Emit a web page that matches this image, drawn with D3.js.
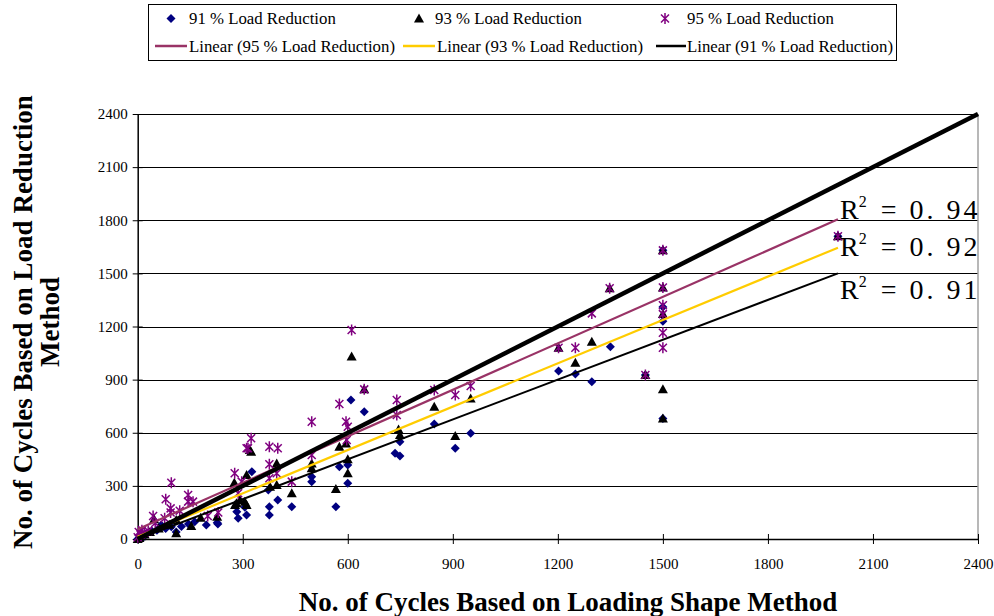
<!DOCTYPE html>
<meta charset="utf-8">
<style>
    body { margin: 0; background: #fff; }
    svg { font-family: "Liberation Serif", "Times New Roman", serif; }
    .axis path { stroke: #000; }
    .axis line { stroke: #000; }
    .axis text { font-size: 15px; font-family: "Liberation Serif", serif; fill: #000; }
    .grid line { stroke: #000; shape-rendering: crispEdges; }
    .title { font-weight: bold; font-size: 27px; }
    .leg text { font-size: 16.8px; }
    .r2 { font-size: 28px; }
</style>
<svg id="chart" width="994" height="616"></svg>
<script src="https://cdnjs.cloudflare.com/ajax/libs/d3/7.8.5/d3.min.js"></script>
<script>

    // points: [loading shape cycles, load reduction cycles]
    var load91 = [[0,0],[5,10],[10,20],[15,8],[25,30],[40,45],[55,50],[67,79],[80,60],[96,69],[110,40],
        [125,70],[145,85],[163,98],[196,79],[227,92],[229,85],[283,154],[287,117],[311,136],[306,180],
        [326,380],[373,277],[376,182],[376,136],[400,220],[440,182],[497,352],[497,324],[566,182],
        [576,408],[600,418],[600,315],[609,785],[647,719],[735,484],[749,469],[749,549],[847,649],
        [907,512],[951,597],[1202,949],[1250,932],[1297,888],[1350,1086],[1450,926],[1500,1630],
        [1500,1310],[1500,1230],[1500,680],[2000,1710]];

    var load93 = [[0,0],[5,5],[10,15],[20,25],[35,40],[47,111],[60,60],[90,80],[110,107],[110,32],
        [153,73],[180,120],[227,126],[278,192],[282,202],[292,220],[306,211],[311,192],[276,318],
        [311,361],[320,503],[324,493],[378,295],[397,305],[397,427],[440,258],[497,427],[497,399],
        [566,282],[576,521],[595,540],[600,450],[600,371],[611,1030],[647,845],[745,619],[749,587],
        [847,747],[907,582],[951,794],[1202,1080],[1250,996],[1297,1114],[1348,1416],[1450,926],
        [1500,1630],[1500,1420],[1500,1270],[1500,845],[1500,680],[2000,1710]];

    var load95 = [[0,10],[3,40],[8,25],[12,50],[20,35],[30,45],[44,130],[50,90],[77,117],[80,224],
        [94,173],[94,150],[96,318],[120,160],[144,248],[144,211],[158,211],[200,130],[230,150],
        [277,371],[287,258],[297,324],[311,512],[315,512],[324,569],[376,521],[400,512],[376,422],
        [376,343],[397,371],[440,324],[497,662],[497,474],[576,762],[595,662],[600,634],[597,559],
        [611,1180],[647,845],[740,785],[740,700],[847,841],[907,813],[951,864],[1202,1080],
        [1250,1080],[1297,1274],[1348,1416],[1450,926],[1500,1630],[1500,1420],[1500,1320],
        [1500,1270],[1500,1165],[1500,1080],[2000,1710]];

    // trend line end points
    var trend95 = [[0,55],[2000,1805]];
    var trend93 = [[0,13],[2000,1645]];
    var trend91 = [[0,0],[2000,1500]];
    var equality = [[0,0],[2400,2400]];

    var r2Values = ["0. 94", "0. 92", "0. 91"];
    var r2LabelY = [1808, 1600, 1356];

    var ticks = [0, 300, 600, 900, 1200, 1500, 1800, 2100, 2400];

    var svg = d3.select("#chart");
    var plotLeft = 137.7, plotRight = 978, plotTop = 114, plotBottom = 539;

    var x = d3.scaleLinear().domain([0, 2400]).range([plotLeft, plotRight]);
    var y = d3.scaleLinear().domain([0, 2400]).range([plotBottom, plotTop]);

    // gridlines
    svg.append("g").attr("class", "grid")
        .selectAll("line").data(ticks.slice(1)).enter().append("line")
        .attr("x1", plotLeft).attr("x2", plotRight)
        .attr("y1", function(d) { return Math.round(y(d)) + 0.5; })
        .attr("y2", function(d) { return Math.round(y(d)) + 0.5; });

    // right border
    svg.append("line")
        .attr("x1", plotRight).attr("x2", plotRight).attr("y1", plotTop).attr("y2", plotBottom)
        .attr("stroke", "#a0a0a0").attr("stroke-width", 1.5);

    var yAxis = d3.axisLeft(y).tickValues(ticks).tickFormat(d3.format("d"))
        .tickSize(5).tickSizeOuter(0).tickPadding(5);
    var xAxis = d3.axisBottom(x).tickValues(ticks).tickFormat(d3.format("d"))
        .tickSize(5).tickSizeOuter(0).tickPadding(14);

    var gY = svg.append("g").attr("class", "axis")
        .attr("transform", "translate(" + plotLeft + ",0)")
        .call(yAxis);
    gY.selectAll(".tick line").attr("x1", 5);
    gY.select(".domain").attr("stroke-width", 1.5);

    var gX = svg.append("g").attr("class", "axis")
        .attr("transform", "translate(0," + plotBottom + ")")
        .call(xAxis);
    gX.selectAll(".tick line").attr("y1", -5);
    gX.select(".domain").attr("stroke-width", 1.5);

    // markers
    var diamond = "M0,-4.5L4.5,0L0,4.5L-4.5,0Z";
    var triangle = "M0,-5L5,4L-5,4Z";
    var star = "M-4,-4L4,4M-4,4L4,-4M0,-5.5L0,5.5";

    function place(d) { return "translate(" + x(d[0]) + "," + y(d[1]) + ")"; }

    svg.append("g").selectAll("path").data(load91).enter().append("path")
        .attr("d", diamond)
        .attr("fill", "#000080")
        .attr("transform", place);

    svg.append("g").selectAll("path").data(load93).enter().append("path")
        .attr("d", triangle)
        .attr("fill", "#000")
        .attr("transform", place);

    svg.append("g").selectAll("path").data(load95).enter().append("path")
        .attr("d", star)
        .attr("fill", "none")
        .attr("stroke", "#800080")
        .attr("stroke-width", 1.5)
        .attr("transform", place);

    // trend lines
    var line = d3.line().x(function(d) { return x(d[0]); }).y(function(d) { return y(d[1]); });

    svg.append("path").datum(trend91).attr("d", line)
        .attr("stroke", "#000").attr("stroke-width", 2).attr("fill", "none");
    svg.append("path").datum(trend93).attr("d", line)
        .attr("stroke", "#ffcc00").attr("stroke-width", 2.2).attr("fill", "none");
    svg.append("path").datum(trend95).attr("d", line)
        .attr("stroke", "#993366").attr("stroke-width", 2.2).attr("fill", "none");
    svg.append("path").datum(equality).attr("d", line)
        .attr("stroke", "#000").attr("stroke-width", 4.5).attr("fill", "none");

    // R² labels
    var r2 = svg.append("g").selectAll("text").data(r2Values).enter().append("text")
        .attr("class", "r2")
        .attr("x", x(2000) + 2)
        .attr("y", function(d, i) { return y(r2LabelY[i]); });
    r2.append("tspan").text("R");
    r2.append("tspan").attr("font-size", 16).attr("dy", -12).text("2");
    r2.append("tspan").attr("dy", 12).attr("dx", 14).attr("letter-spacing", 3)
        .text(function(d) { return "= " + d; });

    // axis titles
    svg.append("text").attr("class", "title")
        .attr("x", 568).attr("y", 611).attr("text-anchor", "middle")
        .text("No. of Cycles Based on Loading Shape Method");

    svg.append("text").attr("class", "title")
        .attr("transform", "translate(32,322) rotate(-90)").attr("text-anchor", "middle")
        .text("No. of Cycles Based on Load Reduction");
    svg.append("text").attr("class", "title")
        .attr("transform", "translate(59,322) rotate(-90)").attr("text-anchor", "middle")
        .text("Method");

    // legend
    var leg = svg.append("g").attr("class", "leg");
    leg.append("rect").attr("x", 148.5).attr("y", 4.5).attr("width", 748).attr("height", 56)
        .attr("fill", "#fff").attr("stroke", "#000");

    var legMarks = [
        {d: diamond, fill: "#000080", stroke: "none", mx: 171, tx: 189, label: "91 % Load Reduction"},
        {d: triangle, fill: "#000", stroke: "none", mx: 419, tx: 435, label: "93 % Load Reduction"},
        {d: star, fill: "none", stroke: "#800080", mx: 665, tx: 687, label: "95 % Load Reduction"}
    ];
    legMarks.forEach(function(m) {
        leg.append("path").attr("d", m.d).attr("fill", m.fill).attr("stroke", m.stroke)
            .attr("stroke-width", 1.5)
            .attr("transform", "translate(" + m.mx + ",18.5)");
        leg.append("text").attr("x", m.tx).attr("y", 24).text(m.label);
    });

    var legLines = [
        {color: "#993366", x1: 155, x2: 187, tx: 189, label: "Linear (95 % Load Reduction)"},
        {color: "#ffcc00", x1: 403, x2: 435, tx: 437, label: "Linear (93 % Load Reduction)"},
        {color: "#000", x1: 656, x2: 686, tx: 687, label: "Linear (91 % Load Reduction)"}
    ];
    legLines.forEach(function(m) {
        leg.append("line").attr("x1", m.x1).attr("x2", m.x2).attr("y1", 46).attr("y2", 46)
            .attr("stroke", m.color).attr("stroke-width", 2.5);
        leg.append("text").attr("x", m.tx).attr("y", 52).text(m.label);
    });

</script>
